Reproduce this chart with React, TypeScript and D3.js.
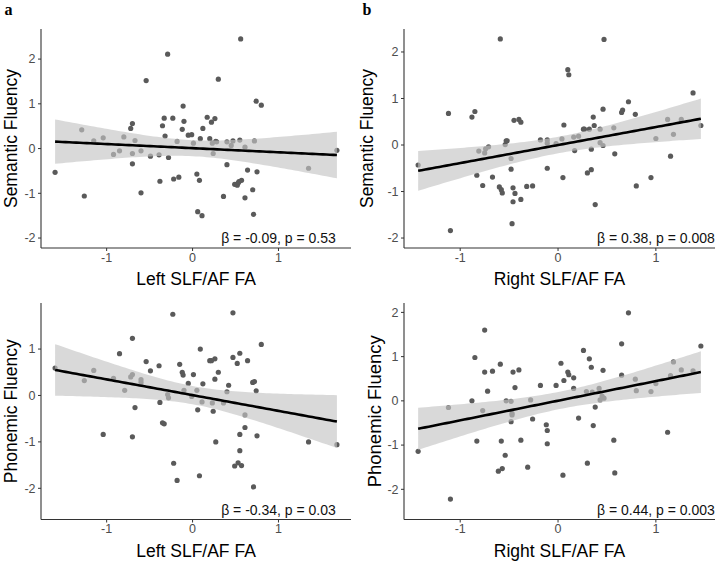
import React from 'react';
import * as d3 from 'd3';

// ---------- data ----------
// Panel a: Left SLF/AF FA vs Semantic Fluency
const leftFA_a = [-1.60,-1.29,-1.26,-1.15,-1.04,-0.92,-0.85,-0.80,-0.72,-0.70,-0.70,-0.70,-0.67,-0.60,-0.60,-0.54,-0.49,-0.39,-0.38,-0.35,-0.33,-0.32,-0.29,-0.28,-0.23,-0.22,-0.18,-0.16,-0.12,-0.11,-0.10,-0.05,-0.01,0.01,0.05,0.06,0.08,0.09,0.11,0.12,0.17,0.20,0.22,0.24,0.23,0.26,0.27,0.28,0.30,0.36,0.40,0.40,0.45,0.47,0.49,0.52,0.53,0.54,0.55,0.56,0.57,0.61,0.61,0.64,0.70,0.71,0.72,0.74,0.75,0.80,1.35,1.68];
const semantic_a = [-0.53,0.42,-1.06,0.17,0.24,-0.13,-0.05,0.26,0.45,0.56,-0.11,-0.34,0.18,-0.05,-0.99,1.52,-0.17,-0.14,-0.73,0.51,0.68,0.28,2.11,-0.20,0.68,-0.68,0.16,-0.64,0.43,0.95,0.61,0.30,0.31,0.12,-0.57,-1.41,-0.71,0.22,-1.50,0.45,0.70,0.22,0.59,-0.11,0.12,0.67,0.16,0.15,1.55,-1.07,-0.36,0.15,0.07,0.17,-0.80,-0.82,-0.77,-0.74,0.19,2.45,-0.71,0.03,-1.10,-0.48,-0.92,-1.47,0.17,1.06,-0.52,0.97,-0.44,-0.04];

// Panel b: Right SLF/AF FA vs Semantic Fluency
const rightFA_b = [-1.43,-1.12,-1.10,-0.88,-0.85,-0.83,-0.81,-0.77,-0.75,-0.74,-0.71,-0.67,-0.60,-0.59,-0.58,-0.57,-0.54,-0.53,-0.52,-0.48,-0.48,-0.47,-0.46,-0.46,-0.45,-0.44,-0.40,-0.38,-0.32,-0.38,-0.26,-0.18,-0.11,-0.11,-0.11,-0.02,0.04,0.05,0.06,0.10,0.11,0.16,0.17,0.21,0.26,0.27,0.30,0.32,0.34,0.34,0.36,0.37,0.38,0.43,0.43,0.46,0.46,0.47,0.57,0.58,0.65,0.66,0.72,0.79,0.80,0.95,1.00,1.12,1.15,1.18,1.26,1.38,1.46];
const semantic_b = [-0.43,0.68,-1.84,0.60,0.72,-0.65,-0.13,-0.87,-0.17,-0.08,-0.04,-0.69,-0.90,2.28,-0.96,-1.03,0.01,0.09,0.09,-0.29,-0.52,-1.69,-1.22,-0.92,0.53,-1.04,0.55,0.49,-0.89,-1.17,-0.88,0.11,-0.50,0.11,0.04,0.03,0.13,-0.70,0.43,1.62,1.51,0.17,-0.12,0.19,0.34,0.34,-0.60,0.34,-0.53,-0.09,0.60,0.42,-1.28,0.34,0.05,0.77,-0.01,2.27,0.37,-0.19,0.70,0.75,0.93,0.66,-0.88,-0.70,0.14,0.55,-0.24,0.23,0.55,1.12,0.42];

// Panel c: Left SLF/AF FA vs Phonemic Fluency
const leftFA_c = [-1.60,-1.26,-1.15,-1.04,-0.92,-0.85,-0.79,-0.72,-0.70,-0.70,-0.70,-0.67,-0.60,-0.60,-0.54,-0.49,-0.39,-0.38,-0.35,-0.33,-0.29,-0.28,-0.23,-0.22,-0.18,-0.15,-0.12,-0.11,-0.10,-0.05,-0.01,0.01,0.05,0.06,0.08,0.09,0.11,0.12,0.20,0.22,0.23,0.24,0.26,0.26,0.27,0.30,0.36,0.40,0.42,0.47,0.47,0.49,0.52,0.53,0.55,0.55,0.55,0.57,0.61,0.61,0.64,0.70,0.71,0.72,0.74,0.75,0.80,1.35,1.68];
const phonemic_c = [0.59,0.32,0.54,-0.84,0.37,0.90,0.11,0.40,1.23,0.45,-0.89,-0.26,0.34,0.28,0.73,0.53,0.64,-0.15,-0.59,-0.61,0.02,-0.05,1.75,-1.46,-1.83,0.67,0.50,0.44,0.11,0.26,-0.02,0.45,0.11,-0.31,-1.73,1.00,-0.14,0.25,0.75,0.75,-0.16,-0.34,0.79,0.35,-1.00,0.50,-0.16,0.08,0.22,0.82,1.78,-1.52,0.69,-1.45,-0.84,0.91,-1.19,-1.51,-0.42,-0.69,0.75,0.28,-1.97,0.30,0.10,-0.87,1.10,-1.00,-1.06];

// Panel d: Right SLF/AF FA vs Phonemic Fluency
const rightFA_d = [-1.43,-1.12,-1.10,-0.88,-0.85,-0.83,-0.77,-0.75,-0.75,-0.72,-0.67,-0.61,-0.59,-0.58,-0.57,-0.54,-0.53,-0.48,-0.48,-0.47,-0.47,-0.46,-0.44,-0.40,-0.38,-0.31,-0.28,-0.26,-0.18,-0.12,-0.11,-0.11,-0.02,0.03,0.05,0.06,0.10,0.11,0.16,0.16,0.21,0.26,0.29,0.30,0.32,0.34,0.35,0.36,0.38,0.42,0.43,0.46,0.45,0.47,0.57,0.58,0.65,0.65,0.72,0.79,0.80,0.95,1.00,1.12,1.15,1.18,1.26,1.38,1.46];
const phonemic_d = [-1.14,-0.15,-2.22,0.00,0.98,-0.91,-0.22,1.60,0.65,0.22,0.67,-1.59,0.83,-0.91,-1.53,-1.23,0.00,-0.01,-0.47,-0.28,-0.32,0.65,0.30,0.70,-0.89,-1.50,0.02,-0.41,0.35,-0.54,-0.67,-0.97,0.35,0.85,-1.68,0.46,0.65,0.59,0.52,0.28,-0.39,1.14,0.21,-1.41,0.95,0.76,0.20,-0.56,-0.14,0.28,0.02,0.69,0.11,0.06,-0.89,-1.63,0.58,1.29,1.99,0.49,0.23,0.21,0.39,-0.71,0.57,0.88,0.70,0.68,1.24];

const xTicks = [-1, 0, 1];
const yTicksTop = [-2, -1, 0, 1, 2];
const yTicksC = [-2, -1, 0, 1];
const yTicksD = [-2, -1, 0, 1, 2];
const annotations = ['\u03B2 = -0.09, p = 0.53', '\u03B2 = 0.38, p = 0.008', '\u03B2 = -0.34, p = 0.03', '\u03B2 = 0.44, p = 0.003'];
const annotX = [1, 1, 1, 1];
const annotY = [-2, -2, -2.46, -2.46];
const xTitles = ['Left SLF/AF FA', 'Right SLF/AF FA', 'Left SLF/AF FA', 'Right SLF/AF FA'];
const yTitles = ['Semantic Fluency', 'Semantic Fluency', 'Phonemic Fluency', 'Phonemic Fluency'];
const panelLetters = ['a', 'b'];

const SANS = '"Liberation Sans", Arial, Helvetica, sans-serif';
const SERIF = '"Liberation Serif", "Times New Roman", serif';

function fitLm(xs: number[], ys: number[], lo: number, hi: number) {
  const n = xs.length;
  const mx = d3.mean(xs)!;
  const my = d3.mean(ys)!;
  let sxx = 0, sxy = 0;
  for (let i = 0; i < n; i++) { sxx += (xs[i] - mx) ** 2; sxy += (xs[i] - mx) * (ys[i] - my); }
  const b = sxy / sxx;
  const a = my - b * mx;
  let sse = 0;
  for (let i = 0; i < n; i++) sse += (ys[i] - a - b * xs[i]) ** 2;
  const s = Math.sqrt(sse / (n - 2));
  const t = 1.995;
  const grid = d3.range(0, 81).map(i => lo + (hi - lo) * i / 80);
  return grid.map(x => {
    const f = a + b * x;
    const se = s * Math.sqrt(1 / n + (x - mx) ** 2 / sxx);
    return { x, f, lo: f - t * se, hi: f + t * se };
  });
}

type PanelProps = {
  xs: number[]; ys: number[];
  left: number; right: number; top: number; bottom: number;
  yTicks: number[]; idx: number;
  yTitleX: number; yTitleSize: number; yTitleCy?: number;
};

function Panel({ xs, ys, left, right, top, bottom, yTicks, idx, yTitleX, yTitleSize, yTitleCy }: PanelProps) {
  const [x0, x1] = d3.extent(xs) as [number, number];
  const xr = x1 - x0;
  const x = d3.scaleLinear().domain([x0 - 0.05 * xr, x1 + 0.05 * xr]).range([left, right]);
  const yMin = Math.min(d3.min(ys)!, annotY[idx]);
  const yMax = Math.max(d3.max(ys)!, annotY[idx]);
  const yr = yMax - yMin;
  const y = d3.scaleLinear().domain([yMin - 0.05 * yr, yMax + 0.05 * yr]).range([bottom, top]);
  const fit = fitLm(xs, ys, x0, x1);
  const area = d3.area<any>().x(d => x(d.x)).y0(d => y(d.lo)).y1(d => y(d.hi));
  const line = d3.line<any>().x(d => x(d.x)).y(d => y(d.f));
  const cy = yTitleCy ?? (top + bottom) / 2;
  return (
    <g>
      {xs.map((v, i) => (
        <circle key={i} cx={x(v)} cy={y(ys[i])} r={2.6} fill="#5a5a5a" />
      ))}
      <path d={area(fit)!} fill="#c5c5c5" fillOpacity={0.65} />
      <path d={line(fit)!} fill="none" stroke="#000" strokeWidth={2.6} />
      {/* axes */}
      <line x1={left} x2={right} y1={bottom} y2={bottom} stroke="#333" strokeWidth={1.1} />
      <line x1={left} x2={left} y1={top} y2={bottom} stroke="#333" strokeWidth={1.1} />
      {xTicks.map(t => (
        <g key={'x' + t}>
          <line x1={x(t)} x2={x(t)} y1={bottom} y2={bottom + 3} stroke="#333" strokeWidth={1} />
          <text x={x(t)} y={bottom + 13.5} textAnchor="middle" fontFamily={SANS} fontSize={12.5} fill="#4d4d4d">{t}</text>
        </g>
      ))}
      {yTicks.map(t => (
        <g key={'y' + t}>
          <line x1={left - 3} x2={left} y1={y(t)} y2={y(t)} stroke="#333" strokeWidth={1} />
          <text x={left - 5.5} y={y(t)} dy="0.35em" textAnchor="end" fontFamily={SANS} fontSize={12.5} fill="#4d4d4d">{t}</text>
        </g>
      ))}
      <text x={x(annotX[idx])} y={y(annotY[idx])} dy="0.35em" textAnchor="middle" fontFamily={SANS} fontSize={14} fill="#111">{annotations[idx]}</text>
      <text x={(left + right) / 2} y={bottom + 37} textAnchor="middle" fontFamily={SANS} fontSize={17.5} fill="#000">{xTitles[idx]}</text>
      <text transform={`translate(${yTitleX},${cy}) rotate(-90)`} textAnchor="middle" fontFamily={SANS} fontSize={yTitleSize} fill="#000">{yTitles[idx]}</text>
    </g>
  );
}

export default function App() {
  return (
    <svg width={716} height={562} style={{ position: 'absolute', left: 0, top: 0, background: '#fff' }}>
      <rect x={0} y={0} width={716} height={562} fill="#fff" />
      <text x={4.5} y={14.5} fontFamily={SERIF} fontWeight="bold" fontSize={16}>{panelLetters[0]}</text>
      <text x={362.5} y={14.5} fontFamily={SERIF} fontWeight="bold" fontSize={16}>{panelLetters[1]}</text>
      <Panel xs={leftFA_a} ys={semantic_a} left={41} right={351} top={29} bottom={248} yTicks={yTicksTop} idx={0} yTitleX={16.5} yTitleSize={17.5} />
      <Panel xs={rightFA_b} ys={semantic_b} left={404} right={715} top={29} bottom={248} yTicks={yTicksTop} idx={1} yTitleX={373} yTitleSize={17.5} />
      <Panel xs={leftFA_c} ys={phonemic_c} left={41} right={351} top={303} bottom={519.5} yTicks={yTicksC} idx={2} yTitleX={16.5} yTitleSize={17.5} />
      <Panel xs={rightFA_d} ys={phonemic_d} left={404} right={715} top={303} bottom={519.5} yTicks={yTicksD} idx={3} yTitleX={381} yTitleSize={18.5} />
    </svg>
  );
}
